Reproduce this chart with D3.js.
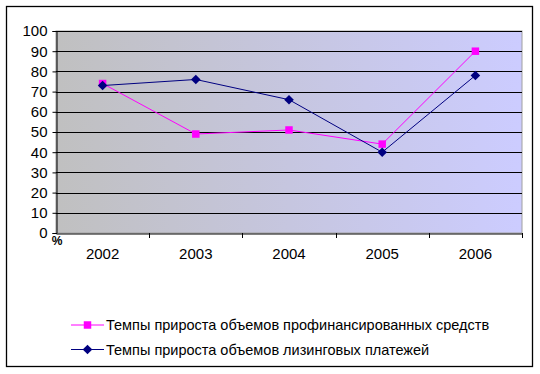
<!DOCTYPE html>
<html><head><meta charset="utf-8">
<script src="https://cdn.jsdelivr.net/npm/d3@7"></script>
<style>body{margin:0;background:#fff;}svg{display:block;font-family:"Liberation Sans",Arial,sans-serif;}</style>
</head><body>
<svg id="c" width="540" height="374"></svg>
<script>
const categories = ["2002","2003","2004","2005","2006"];
const financed = [74, 49, 51, 44, 90];
const payments = [73, 76, 66, 40, 78];
const yTicks = [0,10,20,30,40,50,60,70,80,90,100];
const seriesNames = ["Темпы прироста объемов профинансированных средств","Темпы прироста объемов лизинговых платежей"];

const svg = d3.select("#c");
svg.append("rect").attr("x",6.5).attr("y",6.5).attr("width",526).attr("height",360)
  .attr("fill","#fff").attr("stroke","#000").attr("stroke-width",1.3);

const L=56, R=522, T=31, B=233;
const x = d3.scaleBand().domain(categories).range([L,R]);
const y = d3.scaleLinear().domain([0,100]).range([B,T]);

const defs = svg.append("defs");
const g = defs.append("linearGradient").attr("id","bg").attr("x1","0").attr("x2","1").attr("y1","0").attr("y2","0");
g.append("stop").attr("offset","0").attr("stop-color","#c0c0c0");
g.append("stop").attr("offset","1").attr("stop-color","#ccccff");
svg.append("rect").attr("x",L).attr("y",T).attr("width",R-L).attr("height",B-T)
  .attr("fill","url(#bg)").attr("stroke","#a0a0a0").attr("stroke-width",1);

svg.append("g").selectAll("line").data(yTicks.filter(d=>d>0)).join("line")
  .attr("x1",L).attr("x2",R).attr("y1",d=>Math.round(y(d))+0.5).attr("y2",d=>Math.round(y(d))+0.5)
  .attr("stroke","#000").attr("stroke-width",1);

const ya = svg.append("g").attr("transform",`translate(${L+0.5},0)`)
  .call(d3.axisLeft(y).tickValues(yTicks).tickSize(4).tickPadding(5));
ya.select(".domain").attr("stroke","#000");
ya.selectAll(".tick line").attr("stroke","#000");
ya.selectAll("text").attr("font-size","15px").attr("fill","#000").attr("font-family","Liberation Sans, Arial, sans-serif");

const xa = svg.append("g").attr("transform",`translate(0,${B+0.5})`)
  .call(d3.axisBottom(x).tickSize(0).tickPadding(15));
xa.select(".domain").attr("stroke","#000");
xa.selectAll("text").attr("font-size","15px").attr("fill","#000").attr("font-family","Liberation Sans, Arial, sans-serif");
svg.append("g").selectAll("line").data(categories).join("line")
  .attr("x1",d=>Math.round(x(d)+x.bandwidth())+0.5).attr("x2",d=>Math.round(x(d)+x.bandwidth())+0.5)
  .attr("y1",B).attr("y2",B+5).attr("stroke","#000");

svg.append("text").attr("x",57).attr("y",245).attr("text-anchor","middle")
  .attr("font-size","12px").attr("font-weight","bold").text("%");

const cx = d => x(d)+x.bandwidth()/2;
const line = d3.line().x((d,i)=>cx(categories[i])).y(d=>y(d));

svg.append("path").datum(financed).attr("d",line).attr("fill","none").attr("stroke","#ff00ff").attr("stroke-width",1);
svg.append("path").datum(payments).attr("d",line).attr("fill","none").attr("stroke","#000080").attr("stroke-width",1);

const sq = d3.symbol().type(d3.symbolSquare).size(56);
const dm = "M0,-4.8L4.8,0L0,4.8L-4.8,0Z";
svg.append("g").selectAll("path").data(financed).join("path")
  .attr("transform",(d,i)=>`translate(${cx(categories[i])},${y(d)})`).attr("d",sq).attr("fill","#ff00ff");
svg.append("g").selectAll("path").data(payments).join("path")
  .attr("transform",(d,i)=>`translate(${cx(categories[i])},${y(d)})`).attr("d",dm).attr("fill","#000080");

const leg = [{c:"#ff00ff",s:sq(),n:seriesNames[0],y:325},{c:"#000080",s:dm,n:seriesNames[1],y:349.5}];
const lg = svg.append("g").selectAll("g").data(leg).join("g");
lg.append("line").attr("x1",71).attr("x2",104).attr("y1",d=>d.y).attr("y2",d=>d.y).attr("stroke",d=>d.c);
lg.append("path").attr("transform",d=>`translate(87.5,${d.y})`).attr("d",d=>d.s).attr("fill",d=>d.c);
lg.append("text").attr("x",106).attr("y",d=>d.y+5).attr("font-size","14.5px").text(d=>d.n);
</script>
</body></html>
